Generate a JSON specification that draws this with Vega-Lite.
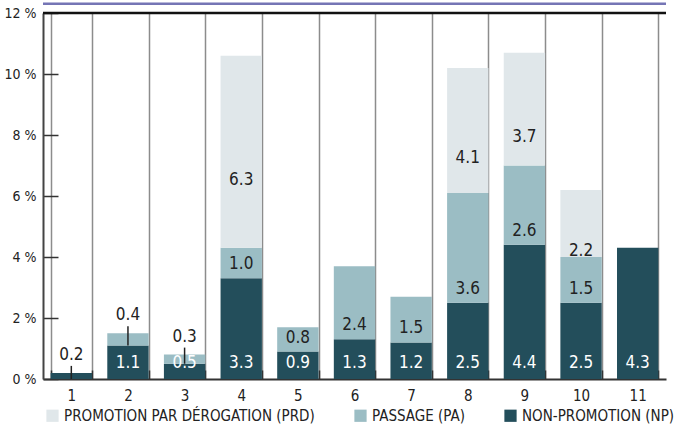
{
  "$schema": "https://vega.github.io/schema/vega-lite/v6.json",
  "width": 623,
  "height": 366,
  "autosize": {"type": "none"},
  "padding": {"left": 43, "top": 13, "right": 24, "bottom": 50},
  "config": {"font": "Liberation Sans Narrow, DejaVu Sans Condensed, sans-serif", "view": {"stroke": null}},
  "datasets": {
    "main": [
      {"cat": "1", "series": "NON-PROMOTION (NP)", "value": 0.2},
      {"cat": "2", "series": "NON-PROMOTION (NP)", "value": 1.1},
      {"cat": "2", "series": "PASSAGE (PA)", "value": 0.4},
      {"cat": "3", "series": "NON-PROMOTION (NP)", "value": 0.5},
      {"cat": "3", "series": "PASSAGE (PA)", "value": 0.3},
      {"cat": "4", "series": "NON-PROMOTION (NP)", "value": 3.3},
      {"cat": "4", "series": "PASSAGE (PA)", "value": 1.0},
      {"cat": "4", "series": "PROMOTION PAR DÉROGATION (PRD)", "value": 6.3},
      {"cat": "5", "series": "NON-PROMOTION (NP)", "value": 0.9},
      {"cat": "5", "series": "PASSAGE (PA)", "value": 0.8},
      {"cat": "6", "series": "NON-PROMOTION (NP)", "value": 1.3},
      {"cat": "6", "series": "PASSAGE (PA)", "value": 2.4},
      {"cat": "7", "series": "NON-PROMOTION (NP)", "value": 1.2},
      {"cat": "7", "series": "PASSAGE (PA)", "value": 1.5},
      {"cat": "8", "series": "NON-PROMOTION (NP)", "value": 2.5},
      {"cat": "8", "series": "PASSAGE (PA)", "value": 3.6},
      {"cat": "8", "series": "PROMOTION PAR DÉROGATION (PRD)", "value": 4.1},
      {"cat": "9", "series": "NON-PROMOTION (NP)", "value": 4.4},
      {"cat": "9", "series": "PASSAGE (PA)", "value": 2.6},
      {"cat": "9", "series": "PROMOTION PAR DÉROGATION (PRD)", "value": 3.7},
      {"cat": "10", "series": "NON-PROMOTION (NP)", "value": 2.5},
      {"cat": "10", "series": "PASSAGE (PA)", "value": 1.5},
      {"cat": "10", "series": "PROMOTION PAR DÉROGATION (PRD)", "value": 2.2},
      {"cat": "11", "series": "NON-PROMOTION (NP)", "value": 4.3}
    ],
    "one": [{}]
  },
  "layer": [
    {
      "data": {"name": "main"},
      "transform": [{"stack": "value", "groupby": ["cat"], "sort": [{"field": "series", "order": "ascending"}], "as": ["v0", "v1"]}],
      "mark": {"type": "bar"},
      "encoding": {
        "x": {
          "field": "cat", "type": "ordinal", "sort": null,
          "scale": {"paddingInner": 0.27, "paddingOuter": 0.135},
          "axis": {
            "title": null, "labelAngle": 0, "tickBand": "extent", "grid": true,
            "gridColor": "#8c8c8c", "gridWidth": 1.5,
            "domainColor": "#333333", "domainWidth": 2,
            "tickColor": "#333333", "tickSize": -9, "tickWidth": 1.5,
            "labelPadding": 18, "labelFontSize": 15, "labelColor": "#222222"
          }
        },
        "y": {
          "field": "v0", "type": "quantitative",
          "scale": {"domain": [0, 12]},
          "axis": {
            "title": null, "values": [0, 2, 4, 6, 8, 10, 12],
            "labelExpr": "datum.value + ' %'", "grid": false,
            "domainColor": "#444444", "domainWidth": 2,
            "tickColor": "#333333", "tickSize": -15, "tickWidth": 1.5,
            "labelPadding": 22, "labelFontSize": 14, "labelColor": "#222222"
          }
        },
        "y2": {"field": "v1"},
        "color": {
          "field": "series", "type": "nominal",
          "scale": {
            "domain": ["PROMOTION PAR DÉROGATION (PRD)", "PASSAGE (PA)", "NON-PROMOTION (NP)"],
            "range": ["#e0e7ea", "#9bbdc4", "#234e5b"]
          },
          "legend": {
            "title": null, "orient": "none", "legendX": 2, "legendY": 395,
            "direction": "horizontal", "columns": 3, "columnPadding": 38,
            "symbolType": "square", "symbolSize": 150, "symbolStrokeWidth": 0,
            "labelFontSize": 15, "labelColor": "#222222", "labelLimit": 400,
            "encode": {"symbols": {"update": {"fill": {"signal": "datum.label == 'PASSAGE (PA)' ? '#8ea8aa' : datum.label == 'NON-PROMOTION (NP)' ? '#234e5b' : '#c8d6d2'"}}}}
          }
        }
      }
    },
    {
      "data": {"name": "one"},
      "mark": {"type": "rule", "color": "#111111", "strokeWidth": 2.5},
      "encoding": {"y": {"datum": 12, "type": "quantitative"}}
    },
    {
      "data": {"name": "one"},
      "mark": {"type": "rule", "color": "#7575b5", "strokeWidth": 2.5},
      "encoding": {"y": {"datum": 12.3, "type": "quantitative"}}
    },
    {
      "data": {"name": "main"},
      "transform": [
        {"stack": "value", "groupby": ["cat"], "sort": [{"field": "series", "order": "ascending"}], "as": ["v0", "v1"]},
        {"filter": "datum.series == 'NON-PROMOTION (NP)' && datum.value >= 0.5"}
      ],
      "mark": {"type": "text", "color": "white", "fontSize": 17, "dy": -16},
      "encoding": {
        "x": {"field": "cat", "type": "ordinal", "sort": null},
        "y": {"field": "v0", "type": "quantitative"},
        "text": {"field": "value", "type": "quantitative", "format": ".1f"}
      }
    },
    {
      "data": {"name": "main"},
      "transform": [
        {"stack": "value", "groupby": ["cat"], "sort": [{"field": "series", "order": "ascending"}], "as": ["v0", "v1"]},
        {"filter": "datum.series == 'PASSAGE (PA)' && datum.value >= 0.5"}
      ],
      "mark": {"type": "text", "color": "#222222", "fontSize": 17, "dy": -14},
      "encoding": {
        "x": {"field": "cat", "type": "ordinal", "sort": null},
        "y": {"field": "v0", "type": "quantitative"},
        "text": {"field": "value", "type": "quantitative", "format": ".1f"}
      }
    },
    {
      "data": {"name": "main"},
      "transform": [
        {"stack": "value", "groupby": ["cat"], "sort": [{"field": "series", "order": "ascending"}], "as": ["v0", "v1"]},
        {"filter": "datum.series == 'PROMOTION PAR DÉROGATION (PRD)'"},
        {"fold": ["v0", "v1"], "as": ["edge", "pos"]},
        {"aggregate": [{"op": "mean", "field": "pos", "as": "mid"}, {"op": "max", "field": "value", "as": "value"}], "groupby": ["cat", "series"]}
      ],
      "mark": {"type": "text", "color": "#222222", "fontSize": 17, "dy": 28},
      "encoding": {
        "x": {"field": "cat", "type": "ordinal", "sort": null},
        "y": {"field": "mid", "type": "quantitative"},
        "text": {"field": "value", "type": "quantitative", "format": ".1f"}
      }
    },
    {
      "data": {"name": "main"},
      "transform": [
        {"stack": "value", "groupby": ["cat"], "sort": [{"field": "series", "order": "ascending"}], "as": ["v0", "v1"]},
        {"filter": "datum.value < 0.5"}
      ],
      "mark": {"type": "text", "color": "#222222", "fontSize": 17, "dy": -18},
      "encoding": {
        "x": {"field": "cat", "type": "ordinal", "sort": null},
        "y": {"field": "v1", "type": "quantitative"},
        "text": {"field": "value", "type": "quantitative", "format": ".1f"}
      }
    },
    {
      "data": {"name": "main"},
      "transform": [
        {"stack": "value", "groupby": ["cat"], "sort": [{"field": "series", "order": "ascending"}], "as": ["v0", "v1"]},
        {"filter": "datum.value < 0.5"}
      ],
      "mark": {"type": "rule", "color": "#222222", "strokeWidth": 1.5, "y2Offset": -7},
      "encoding": {
        "x": {"field": "cat", "type": "ordinal", "sort": null},
        "y": {"field": "v0", "type": "quantitative"},
        "y2": {"field": "v1"}
      }
    }
  ]
}
